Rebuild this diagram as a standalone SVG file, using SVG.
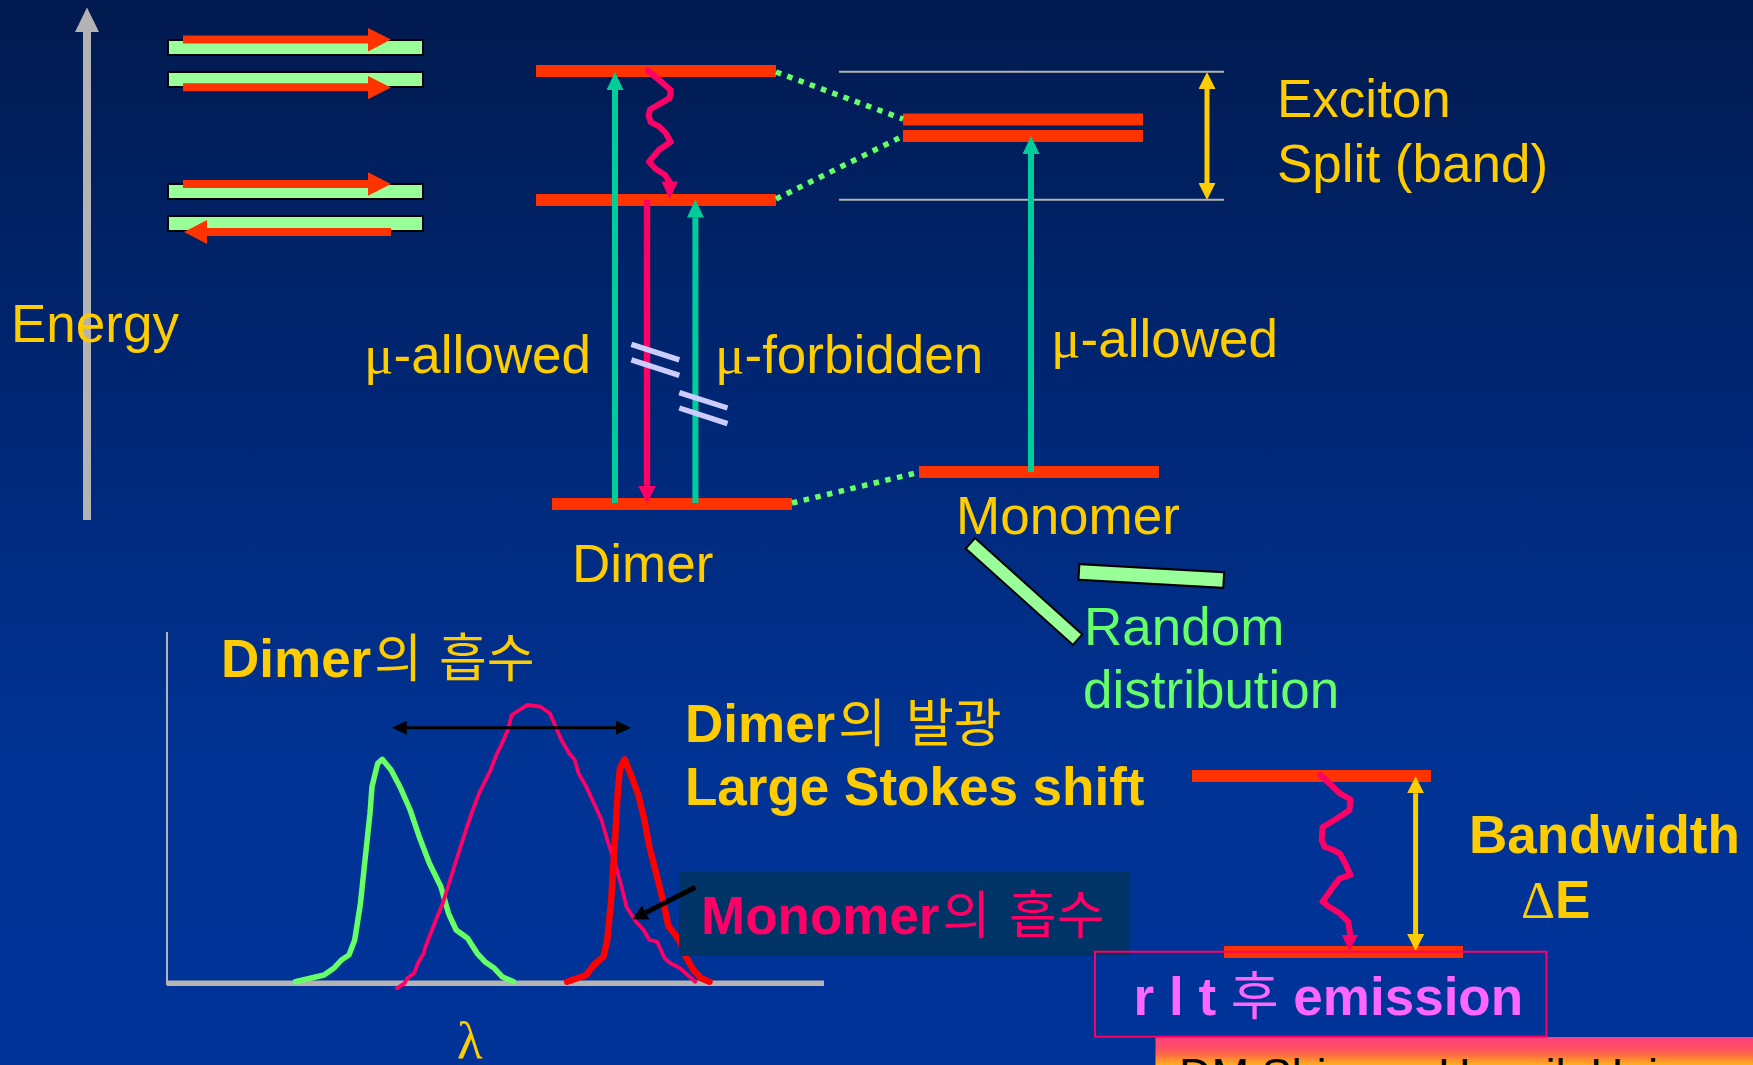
<svg xmlns="http://www.w3.org/2000/svg" width="1753" height="1065" viewBox="0 0 1753 1065">
<defs>
<linearGradient id="bg" x1="0" y1="0" x2="0" y2="1">
<stop offset="0" stop-color="#011a4f"/>
<stop offset="0.5" stop-color="#002b80"/>
<stop offset="0.72" stop-color="#003394"/>
<stop offset="1" stop-color="#003399"/>
</linearGradient>
<linearGradient id="foot" x1="0" y1="1037" x2="0" y2="1065" gradientUnits="userSpaceOnUse">
<stop offset="0" stop-color="#ff4080"/>
<stop offset="0.4" stop-color="#ff5065"/>
<stop offset="0.65" stop-color="#ff6e40"/>
<stop offset="1" stop-color="#ffb020"/>
</linearGradient>
<marker id="hTeal" viewBox="0 0 18 17" refX="0" refY="8.5" markerWidth="18" markerHeight="17" markerUnits="userSpaceOnUse" orient="auto"><path d="M0,0 L18,8.5 L0,17 z" fill="#00cc99"/></marker>
<marker id="hPink" viewBox="0 0 18 18" refX="0" refY="9" markerWidth="18" markerHeight="18" markerUnits="userSpaceOnUse" orient="auto"><path d="M0,0 L18,9 L0,18 z" fill="#ff0066"/></marker>
<marker id="hYel" viewBox="0 0 17 17" refX="0" refY="8.5" markerWidth="17" markerHeight="17" markerUnits="userSpaceOnUse" orient="auto-start-reverse"><path d="M0,0 L17,8.5 L0,17 z" fill="#ffcc00"/></marker>
<marker id="hBlk" viewBox="0 0 15 14" refX="0" refY="7" markerWidth="15" markerHeight="14" markerUnits="userSpaceOnUse" orient="auto-start-reverse"><path d="M0,0 L15,7 L0,14 z" fill="#000"/></marker>
<marker id="hBlk2" viewBox="0 0 15 16" refX="0" refY="8" markerWidth="15" markerHeight="16" markerUnits="userSpaceOnUse" orient="auto"><path d="M0,0 L15,8 L0,16 z" fill="#000"/></marker>
</defs>
<style>
text{font-family:"Liberation Sans","Noto Sans CJK KR",sans-serif;font-size:53px}
.y{fill:#ffcc00}
.g{fill:#66ff66}
.b{font-weight:bold}
.kr{font-family:"Noto Sans CJK KR",sans-serif;font-weight:normal;font-size:52px}
.sym{font-family:"Liberation Serif",serif}
.lvl{fill:#ff3300}
.bar{fill:#99ff99;stroke:#000;stroke-width:2}
.gl{stroke:#b3b3b3;stroke-width:2}
.dot{stroke:#66ff66;stroke-width:5.5;stroke-dasharray:5.5 6.5;fill:none}
.teal{stroke:#00cc99;stroke-width:6;fill:none}
.pink{stroke:#ff0066;stroke-width:6;fill:none;stroke-linejoin:round;stroke-linecap:round}
.slash{stroke:#ccccff;stroke-width:5.5}
.yar{stroke:#ffcc00;stroke-width:5}
.curve{fill:none;stroke-linejoin:round;stroke-linecap:round}
</style>
<rect x="0" y="0" width="1753" height="1065" fill="url(#bg)"/>

<g id="energy-axis">
<rect x="83" y="31" width="8" height="489" fill="#b3b3b3"/>
<path d="M87,7.5 L99,32 L75,32 z" fill="#b3b3b3"/>
<text x="11" y="342" class="y">Energy</text>
</g>

<g id="orbital-pairs">
<rect class="bar" x="168" y="40" width="255" height="15"/>
<rect class="bar" x="168" y="72" width="255" height="15"/>
<rect class="bar" x="168" y="184" width="255" height="15"/>
<rect class="bar" x="168" y="216" width="255" height="15"/>
<path d="M183,35.5 H368 V28 L391,39.5 L368,51.5 V43.5 H183 z" fill="#ff3300"/>
<path d="M183,83.3 H368 V76 L391,87.5 L368,99.3 V91.3 H183 z" fill="#ff3300"/>
<path d="M183,180 H368 V172.3 L391,184 L368,195.7 V188 H183 z" fill="#ff3300"/>
<path d="M391,228 H207 V220 L184,232 L207,244 V236 H391 z" fill="#ff3300"/>
</g>

<g id="dimer-levels">
<rect class="lvl" x="536" y="65" width="240" height="12"/>
<rect class="lvl" x="536" y="194" width="240" height="12"/>
<rect class="lvl" x="552" y="498" width="240" height="12"/>
<text x="572" y="582" class="y">Dimer</text>
</g>

<g id="monomer-levels">
<line class="gl" x1="839" y1="71.7" x2="1224" y2="71.7"/>
<line class="gl" x1="839" y1="199.7" x2="1224" y2="199.7"/>
<rect class="lvl" x="903" y="113.5" width="240" height="12"/>
<rect class="lvl" x="903" y="130" width="240" height="12"/>
<rect class="lvl" x="919" y="466" width="240" height="12"/>
<text x="956" y="534" class="y">Monomer</text>
</g>

<g id="exciton-label">
<text x="1277" y="117" class="y">Exciton</text>
<text x="1277" y="182" class="y">Split (band)</text>
</g>

<g id="transition-labels">
<text x="364" y="373" class="y"><tspan class="sym" font-size="55">μ</tspan>-allowed</text>
<text x="715" y="373" class="y"><tspan class="sym" font-size="55">μ</tspan>-forbidden</text>
<text x="1051" y="357" class="y"><tspan class="sym" font-size="55">μ</tspan>-allowed</text>
</g>

<g id="random-distribution">
<rect class="bar" x="-72" y="-7" width="144" height="14" transform="translate(1024,591.5) rotate(41.9)"/>
<rect class="bar" x="-72.5" y="-7.8" width="145" height="15.6" transform="translate(1151.3,576) rotate(3.2)"/>
<text x="1084" y="645" class="g">Random</text>
<text x="1083" y="708" class="g">distribution</text>
</g>

<g id="spectrum-plot">
<line x1="167" y1="632" x2="167" y2="985" stroke="#b3b3b3" stroke-width="2"/>
<line x1="167" y1="983.3" x2="824" y2="983.3" stroke="#b3b3b3" stroke-width="5.5"/>
<polyline class="curve" stroke="#66ff66" stroke-width="5.5" points="295.4,981.7 324.1,975 333.7,968.3 341.4,960 349,955 354.7,940 360.5,903.3 364.3,866.7 370,813.3 372,786.7 377.7,763.3 382.3,759.3 391.1,770 400.7,788.3 410.2,810 419.8,838.3 429.4,863.3 440.9,886.7 448.5,913.3 456.2,930 467.6,938.3 477.2,953.3 484.9,961.7 494.4,968.3 502.1,976.7 513.6,981.7"/>
<polyline class="curve" stroke="#ff0066" stroke-width="3.8" points="396.8,988.3 404.5,983.3 407.2,978.3 414.1,973.3 417.9,963.3 423.6,953.3 425.5,946.7 433.2,926.7 442.8,903.3 454.2,866.7 463.8,836.7 471.5,813.3 479.1,793.3 484.9,781.7 490.6,770 496.3,755 502.1,743.3 507.8,730 511.7,715 527,705 540.4,706.7 549.9,713.3 555.7,726.7 561.4,740 569.1,753.3 574.8,760 578.6,773.3 586.3,786.7 593.9,803.3 601.6,820 607.3,840 615,863.3 620.7,883.3 626.5,906.7 636,921.7 643.7,930 649.4,940 657.1,941.7 660.9,950 664.7,958.3 670.5,963.3 680,968.3 687.7,975 695.3,981.7"/>
<polyline class="curve" stroke="#ff0000" stroke-width="6.5" points="567.1,981.7 586.3,975 593.9,965 603.5,956.7 607.3,940 611.2,900 615,840 617.7,793.3 620,768.3 624.6,759.3 630.3,773.3 637.9,793.3 643.7,816.7 649.4,846.7 657.1,876.7 662.8,900 668.6,926.7 674.3,933.3 680,941.7 685.8,956.7 693.4,970 701.1,978.3 709.5,981.7"/>
<text x="457" y="1058" class="y sym" font-size="52">λ</text>
</g>

<g id="dimer-absorption-label">
<text x="221" y="677" class="y b">Dimer<tspan class="kr" dx="3">의</tspan><tspan class="kr" x="439">흡수</tspan></text>
</g>

<g id="dimer-emission-label">
<text x="685" y="742" class="y b">Dimer<tspan class="kr" dx="3">의</tspan><tspan class="kr" x="906">발광</tspan></text>
<text x="685" y="805" class="y b">Large Stokes shift</text>
</g>

<g id="monomer-absorption-label">
<rect x="679" y="872" width="451" height="84" fill="#003366"/>
<text x="701" y="934" class="b" fill="#ff0066">Monomer<tspan class="kr" dx="3">의</tspan><tspan class="kr" x="1009">흡수</tspan></text>
</g>

<g id="bandwidth-levels">
<rect class="lvl" x="1192" y="770" width="239" height="12"/>
<rect class="lvl" x="1224" y="946" width="239" height="12"/>
<text x="1469" y="853" class="y b">Bandwidth</text>
<text x="1521" y="918" class="y"><tspan class="sym">Δ</tspan><tspan class="b">E</tspan></text>
</g>

<g id="connectors">
<line class="dot" x1="776" y1="72" x2="903" y2="119"/>
<line class="dot" x1="776" y1="199" x2="899" y2="138"/>
<line class="dot" x1="792" y1="503" x2="914" y2="473.5"/>
<line class="teal" x1="615" y1="503" x2="615" y2="90" marker-end="url(#hTeal)"/>
<line class="teal" x1="695.4" y1="503" x2="695.4" y2="217.6" marker-end="url(#hTeal)"/>
<line class="teal" x1="1031" y1="472" x2="1031" y2="154" marker-end="url(#hTeal)"/>
<line x1="647" y1="200" x2="647" y2="485.5" stroke="#ff0066" stroke-width="6.4" marker-end="url(#hPink)"/>
<polyline class="pink" stroke-width="5.5" points="647.9,70.6 664.3,84.4 670.7,90.2 669.6,98.1 650,109.5 648.6,115.4 650.7,122.2 658.9,126.4 665.4,132.6 670.7,141.9 664.3,146.3 658.9,149.8 648.9,161.8 655.4,168.7 665,174.9 669.6,182"/>
<path d="M661.4,181.5 L678,181.5 L669.6,199 z" fill="#ff0066"/>
<line class="slash" x1="631.4" y1="344.4" x2="679.3" y2="359.9"/>
<line class="slash" x1="631.4" y1="359.9" x2="679.3" y2="375.3"/>
<line class="slash" x1="679.3" y1="392.6" x2="727.5" y2="408"/>
<line class="slash" x1="679.3" y1="408" x2="727.5" y2="423.6"/>
<line class="yar" x1="1207" y1="89" x2="1207" y2="183" marker-start="url(#hYel)" marker-end="url(#hYel)"/>
<line x1="406.9" y1="727.7" x2="616" y2="727.7" stroke="#000" stroke-width="3" marker-start="url(#hBlk)" marker-end="url(#hBlk)"/>
<line x1="695.4" y1="887.3" x2="645.9" y2="912.5" stroke="#000" stroke-width="5" marker-end="url(#hBlk2)"/>
<line class="yar" x1="1415.6" y1="793.3" x2="1415.6" y2="934" marker-start="url(#hYel)" marker-end="url(#hYel)"/>
<polyline class="pink" stroke-width="5.5" points="1320.3,775 1331.1,785 1339.7,793.3 1350.4,799.3 1349.5,810 1337.5,818.3 1322.5,827.3 1321.6,840 1324.6,846.7 1333.2,850 1339.7,853.3 1345.2,863.3 1350.4,875 1339.7,878.3 1333.2,886.7 1322.5,901.7 1328.9,906.7 1339.7,913.3 1348.2,921.7 1350.4,935.5"/>
<path d="M1341.8,935 L1358.1,935 L1349.5,950.7 z" fill="#ff0066"/>
</g>

<g id="footer">
<rect x="1155.5" y="1037" width="598" height="40" fill="url(#foot)"/>
<text font-size="45" fill="#000"><tspan x="1179" y="1090" font-size="45">DM Shin</tspan><tspan x="1438" y="1090" font-size="45">Hongik Univ.</tspan></text>
</g>

<g id="emission-box">
<rect x="1095" y="951.7" width="451.5" height="85" fill="none" stroke="#ff0066" stroke-width="2"/>
<text x="1133.6" y="1015" class="b" font-size="52" fill="#ff66ff">r l t <tspan class="kr" font-size="50">후</tspan> emission</text>
</g>
</svg>
